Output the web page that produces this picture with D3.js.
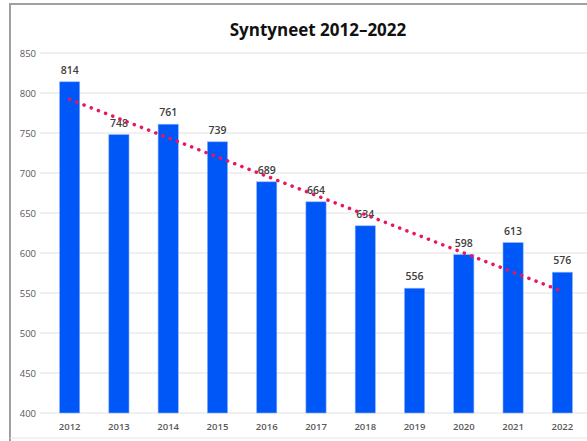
<!DOCTYPE html>
<html><head><meta charset="utf-8">
<script src="https://cdn.jsdelivr.net/npm/d3@7"></script>
<style>body{margin:0;background:#fff}svg{display:block}</style>
</head><body>
<script>
const years = ["2012","2013","2014","2015","2016","2017","2018","2019","2020","2021","2022"];
const births = [814,748,761,739,689,664,634,556,598,613,576];
const yTicks = [400,450,500,550,600,650,700,750,800,850];
const title = "Syntyneet 2012–2022";

const W = 587, H = 441;
const svg = d3.select("body").append("svg").attr("width", W).attr("height", H);
const font = "'Open Sans','Liberation Sans',sans-serif";

// frame
svg.append("path").attr("d", `M10,${H} V4 H${W}`).attr("fill","none").attr("stroke","#a0a0a0").attr("stroke-width",2);
svg.append("line").attr("x1",10).attr("x2",W).attr("y1",438).attr("y2",438).attr("stroke","#e4e4e4").attr("stroke-width",1);

const x = d3.scaleBand().domain(years).range([45, 587]).paddingInner(0.59).paddingOuter(0.295);
const y = d3.scaleLinear().domain([400, 850]).range([413, 53]);

// grid
svg.append("g").selectAll("line").data(yTicks).join("line")
  .attr("x1", 40).attr("x2", W).attr("y1", d => y(d)).attr("y2", d => y(d))
  .attr("stroke", "#e2e2e2").attr("stroke-width", 1);

// y axis
const yAxis = svg.append("g").attr("transform", "translate(36,0)")
  .call(d3.axisLeft(y).tickValues(yTicks).tickSize(0).tickPadding(0));
yAxis.select(".domain").remove();
yAxis.selectAll("text").attr("font-family", font).attr("font-size", 9.5).attr("fill", "#595959");

// x axis
const xAxis = svg.append("g").attr("transform", "translate(0,413)")
  .call(d3.axisBottom(x).tickSize(0).tickPadding(10));
xAxis.select(".domain").remove();
xAxis.selectAll("text").attr("font-family", font).attr("font-size", 9.5).attr("font-weight", 600).attr("fill", "#595959");

// bars
svg.append("g").selectAll("rect").data(births).join("rect")
  .attr("x", (d,i) => x(years[i])).attr("width", x.bandwidth())
  .attr("y", d => y(d)).attr("height", d => y(400) - y(d))
  .attr("fill", "#0057f7").attr("stroke", "#8fb3ff").attr("stroke-width", 0.6);

// labels
svg.append("g").selectAll("text").data(births).join("text")
  .attr("x", (d,i) => x(years[i]) + x.bandwidth()/2).attr("y", d => y(d) - 8)
  .attr("text-anchor", "middle").attr("font-family", font).attr("font-size", 10.5)
  .attr("font-weight", 600).attr("fill", "#404040").text(d => d);

// linear trendline (least squares)
const n = births.length;
const mx = d3.mean(d3.range(n)), my = d3.mean(births);
const slope = d3.sum(births, (v,i) => (i-mx)*(v-my)) / d3.sum(d3.range(n), i => (i-mx)**2);
const icpt = my - slope*mx;
const cx = i => x(years[i]) + x.bandwidth()/2;
svg.append("line")
  .attr("x1", cx(0)).attr("y1", y(icpt))
  .attr("x2", cx(n-1)).attr("y2", y(icpt + slope*(n-1)))
  .attr("stroke", "#e8175d").attr("stroke-width", 3.5)
  .attr("stroke-linecap", "round").attr("stroke-dasharray", "0.1 7.6");

// title
svg.append("text").attr("x", 318).attr("y", 36).attr("text-anchor", "middle")
  .attr("font-family", font).attr("font-size", 17).attr("font-weight", 700)
  .attr("fill", "#111").text(title);
</script>
</body></html>
